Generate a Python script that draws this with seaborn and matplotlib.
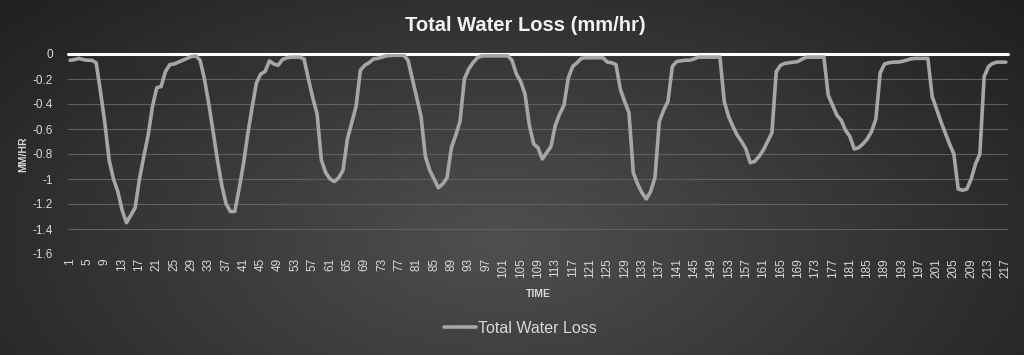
import numpy as np
import pandas as pd
import matplotlib
matplotlib.use("Agg")
import matplotlib.pyplot as plt
import seaborn as sns

# Total water loss (mm/hr), one value per time step 1..217
loss_1_36 = [-0.05, -0.045, -0.035, -0.045, -0.05, -0.05, -0.07, -0.30, -0.55, -0.85,
             -1.00, -1.10, -1.25, -1.35, -1.29, -1.23, -1.00, -0.82, -0.65, -0.42,
             -0.27, -0.26, -0.14, -0.085, -0.08, -0.065, -0.05, -0.035, -0.02, -0.015,
             -0.05, -0.20, -0.40, -0.62, -0.85, -1.05]
loss_37_72 = [-1.20, -1.26, -1.26, -1.08, -0.88, -0.64, -0.43, -0.23, -0.16, -0.14,
              -0.055, -0.08, -0.09, -0.045, -0.03, -0.025, -0.025, -0.025, -0.04, -0.20,
              -0.35, -0.48, -0.85, -0.95, -1.00, -1.02, -0.99, -0.93, -0.68, -0.55,
              -0.42, -0.13, -0.09, -0.07, -0.04, -0.035]
loss_73_108 = [-0.025, -0.015, -0.012, -0.01, -0.01, -0.01, -0.05, -0.20, -0.35, -0.50,
               -0.82, -0.93, -1.00, -1.07, -1.04, -0.99, -0.75, -0.65, -0.54, -0.20,
               -0.12, -0.07, -0.03, -0.016, -0.015, -0.015, -0.015, -0.015, -0.015, -0.015,
               -0.05, -0.16, -0.22, -0.32, -0.57, -0.72]
loss_109_144 = [-0.75, -0.84, -0.79, -0.74, -0.57, -0.48, -0.41, -0.19, -0.10, -0.07,
                -0.035, -0.03, -0.03, -0.03, -0.03, -0.03, -0.065, -0.07, -0.085, -0.28,
                -0.38, -0.47, -0.95, -1.04, -1.11, -1.16, -1.10, -0.99, -0.54, -0.45,
                -0.38, -0.10, -0.06, -0.055, -0.05, -0.05]
loss_145_180 = [-0.04, -0.025, -0.025, -0.025, -0.025, -0.025, -0.025, -0.38, -0.50, -0.58,
                -0.65, -0.70, -0.76, -0.87, -0.86, -0.82, -0.77, -0.70, -0.63, -0.14,
                -0.09, -0.075, -0.07, -0.065, -0.06, -0.04, -0.025, -0.025, -0.025, -0.025,
                -0.025, -0.33, -0.41, -0.49, -0.53, -0.61]
loss_181_217 = [-0.66, -0.76, -0.75, -0.72, -0.68, -0.62, -0.52, -0.15, -0.08, -0.07,
                -0.065, -0.065, -0.06, -0.05, -0.04, -0.035, -0.035, -0.035, -0.035, -0.34,
                -0.44, -0.54, -0.63, -0.72, -0.80, -1.08, -1.09, -1.08, -1.00, -0.88,
                -0.80, -0.18, -0.10, -0.075, -0.065, -0.065, -0.065]

loss = (loss_1_36 + loss_37_72 + loss_73_108 + loss_109_144
        + loss_145_180 + loss_181_217)
time = list(range(1, len(loss) + 1))
y_ticks = [0, -0.2, -0.4, -0.6, -0.8, -1, -1.2, -1.4, -1.6]
y_labels = ["0", "-0.2", "-0.4", "-0.6", "-0.8", "-1", "-1.2", "-1.4", "-1.6"]
x_ticks = list(range(1, 218, 4))

df = pd.DataFrame({"TIME": time, "Total Water Loss": loss})

sns.set_style("dark")
plt.rcParams["font.family"] = ["Liberation Sans", "DejaVu Sans"]

fig = plt.figure(figsize=(10.24, 3.55), dpi=100)

# radial grey background like the Excel chart style
bg = fig.add_axes([0, 0, 1, 1], zorder=-10)
yy, xx = np.mgrid[0:355, 0:1024]
r = np.sqrt(((xx - 500) / 620.0) ** 2 + ((yy - 240) / 330.0) ** 2)
shade = np.clip(0.31 - 0.17 * r, 0.12, 0.31)
bg.imshow(np.dstack([shade, shade, shade]), aspect="auto", extent=[0, 1, 0, 1])
bg.axis("off")

ax = fig.add_axes([68 / 1024, 1 - 254 / 355, 940 / 1024, 200 / 355])
ax.set_facecolor("none")

sns.lineplot(data=df, x="TIME", y="Total Water Loss", ax=ax, color="#a6a6a6",
             linewidth=2.6, label="Total Water Loss", legend=False)

ax.set_xlim(0.5, len(loss) + 0.5)
ax.set_ylim(-1.6, 0)
ax.set_yticks(y_ticks)
ax.set_yticklabels(y_labels)
ax.set_xticks(x_ticks)
ax.set_xticklabels([str(t) for t in x_ticks], rotation=90)
ax.tick_params(axis="y", colors="#d9d9d9", labelsize=8.5, length=0, pad=11)
ax.tick_params(axis="x", colors="#d9d9d9", labelsize=8.5, length=0, pad=3)
ax.grid(axis="y", color="#606060", linewidth=0.8)
ax.grid(axis="x", visible=False)
for s in ax.spines.values():
    s.set_visible(False)
ax.axhline(0, color="white", linewidth=2.2, clip_on=False, zorder=1)

ax.set_xlabel("TIME", color="#d9d9d9", fontsize=7.5, fontweight="bold", labelpad=8)
ax.set_ylabel("MM/HR", color="#d9d9d9", fontsize=7.5, fontweight="bold", labelpad=3)

fig.text(0.513, 0.928, "Total Water Loss (mm/hr)", color="#f2f2f2",
         fontsize=14.5, fontweight="bold", ha="center", va="center")

handles, labels = ax.get_legend_handles_labels()
fig.legend(handles, labels, loc="center", bbox_to_anchor=(0.508, 0.076), frameon=False,
           fontsize=11.5, labelcolor="#d9d9d9", handlelength=2.0, handletextpad=0.1)

fig.savefig("out.png", dpi=100)
